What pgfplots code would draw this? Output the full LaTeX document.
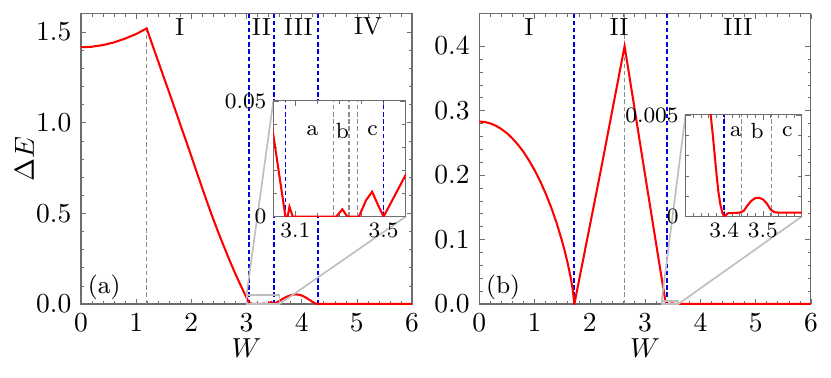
\documentclass[border=0pt]{standalone}
\usepackage{pgfplots}
\pgfplotsset{compat=1.18}
\usepackage{pgfplotstable}

\pgfplotstableread{
W E
0 1.416
0.2 1.419
0.4 1.428
0.6 1.443
0.8 1.464
1.0 1.489
1.1 1.505
1.19 1.520
1.3 1.424
1.4 1.338
1.5 1.251
1.6 1.165
1.7 1.078
1.8 0.990
1.9 0.903
2.0 0.815
2.1 0.725
2.2 0.637
2.3 0.550
2.4 0.466
2.5 0.386
2.6 0.310
2.7 0.236
2.8 0.165
2.9 0.099
3.0 0.0353
3.03 0.016
3.055 0.0
3.065 0.0
3.073 0.0043
3.088 0.0
3.285 0.0
3.313 0.0032
3.336 0.0
3.388 0.0
3.42 0.007
3.448 0.0108
3.475 0.005
3.50 0.0
3.55 0.009
3.6 0.018
3.65 0.027
3.7 0.036
3.75 0.043
3.8 0.048
3.85 0.052
3.9 0.053
3.95 0.051
4.0 0.047
4.05 0.040
4.1 0.031
4.15 0.021
4.2 0.011
4.25 0.003
4.28 0.0
6.0 0.0
}\dataA

\pgfplotstableread{
W E
0 0.2830
0.1 0.2823
0.2 0.2801
0.3 0.2765
0.4 0.2714
0.5 0.2649
0.6 0.2568
0.7 0.2471
0.8 0.2359
0.9 0.2226
1.0 0.2077
1.1 0.1907
1.2 0.1715
1.3 0.1500
1.4 0.1254
1.5 0.0968
1.55 0.0807
1.6 0.0629
1.65 0.0426
1.69 0.0227
1.72 0.0
2.2 0.208
2.629 0.400
2.8 0.308
3.0 0.200
3.2 0.093
3.3 0.040
3.35 0.0135
3.365 0.0050
3.37 0.0041
3.375 0.0031
3.38 0.0021
3.385 0.0012
3.39 0.0006
3.395 0.0002
3.40 0.0
3.405 0.0001
3.41 0.00017
3.44 0.0002
3.45 0.00028
3.46 0.00055
3.47 0.00078
3.48 0.00091
3.49 0.00093
3.50 0.00085
3.51 0.00065
3.52 0.00035
3.53 0.00022
3.54 0.0002
6.0 0.0002
}\dataB

\definecolor{vblue}{RGB}{0,0,230}
\definecolor{framegray}{RGB}{110,110,110}
\definecolor{linkgray}{RGB}{190,190,190}
\definecolor{dashgray}{RGB}{140,140,140}

\pgfplotsset{
  base/.style={
    scale only axis, anchor=south west,
    axis line style={framegray},
    tick style={framegray},
    tick align=inside,
    major tick length=2pt, minor tick length=1.2pt,
    scaled x ticks=false, scaled y ticks=false,
    clip=true,
  },
  vgray/.style={dashgray, line width=0.5pt, dash pattern=on 1.6pt off 1pt, forget plot},
  vblu/.style={vblue, line width=0.65pt, dash pattern=on 1.6pt off 1pt, forget plot},
  curve/.style={red, line width=0.75pt, mark=none},
}

\begin{document}
\begin{tikzpicture}
\path[use as bounding box] (0,0) rectangle (302.2pt,137.1pt);

% ---------------- panel (a) ----------------
\begin{axis}[base, name=A, at={(29.45pt,26.55pt)},
  width=120.4pt, height=105.5pt,
  xmin=0, xmax=6, ymin=0, ymax=1.6,
  xtick={0,1,2,3,4,5,6}, ytick={0,0.5,1.0,1.5},
  minor x tick num=4, minor y tick num=4,
  yticklabel style={/pgf/number format/.cd, fixed, fixed zerofill, precision=1},
  xlabel={$W$}, ylabel={$\Delta E$},
  xlabel style={at={(axis description cs:0.5,-0.152)}, anchor=center},
  ylabel style={at={(axis description cs:-0.171,0.5)}, anchor=center},
]
\addplot[vgray] coordinates {(1.19,0) (1.19,1.52)};
\addplot[vblu] coordinates {(3.05,0) (3.05,1.6)};
\addplot[vblu] coordinates {(3.50,0) (3.50,1.6)};
\addplot[vblu] coordinates {(4.30,0) (4.30,1.6)};
\addplot[curve] table[x=W,y=E] {\dataA};
\draw[linkgray, line width=0.6pt] (axis cs:3.0,0) rectangle (axis cs:3.6,0.05);
\coordinate (a1) at (axis cs:3.0,0.05);
\coordinate (a2) at (axis cs:3.6,0);
\node[font=\small] at (axis cs:1.79,1.53) {I};
\node[font=\small] at (axis cs:3.27,1.53) {II};
\node[font=\small] at (axis cs:3.94,1.53) {III};
\node[font=\small] at (axis cs:5.2,1.53) {IV};
\node[font=\small] at (axis cs:0.42,0.094) {(a)};
\end{axis}

\draw[linkgray, line width=0.6pt] (a1) -- (99.4pt,100.4pt);
\draw[linkgray, line width=0.6pt] (a2) -- (147.5pt,58.3pt);

\begin{axis}[base, name=insA, at={(99.4pt,58.3pt)},
  width=48.1pt, height=42.1pt,
  axis background/.style={fill=white},
  xmin=3.0, xmax=3.6, ymin=0, ymax=0.05,
  xtick={3.1,3.5}, xticklabels={$3.1$,$3.5$},
  minor xtick={3.0,3.2,3.3,3.4,3.6},
  ytick={0,0.05}, yticklabels={$0$,$0.05$},
  minor ytick={0.01,0.02,0.03,0.04},
  tick label style={font=\footnotesize},
  xticklabel style={yshift=1pt}, yticklabel style={xshift=1pt},
]
\addplot[vblu] coordinates {(3.055,0) (3.055,0.05)};
\addplot[vblu] coordinates {(3.50,0) (3.50,0.05)};
\addplot[vgray] coordinates {(3.273,0) (3.273,0.05)};
\addplot[vgray] coordinates {(3.343,0) (3.343,0.05)};
\addplot[vgray] coordinates {(3.381,0) (3.381,0.05)};
\addplot[curve] table[x=W,y=E] {\dataA};
\node[font=\footnotesize] at (axis cs:3.178,0.037) {a};
\node[font=\footnotesize] at (axis cs:3.313,0.037) {b};
\node[font=\footnotesize] at (axis cs:3.45,0.037) {c};
\end{axis}

% ---------------- panel (b) ----------------
\begin{axis}[base, name=B, at={(174.3pt,26.55pt)},
  width=120.6pt, height=105.5pt,
  xmin=0, xmax=6, ymin=0, ymax=0.45,
  xtick={0,1,2,3,4,5,6}, ytick={0,0.1,0.2,0.3,0.4},
  minor x tick num=4, minor y tick num=4,
  yticklabel style={/pgf/number format/.cd, fixed, fixed zerofill, precision=1},
  xlabel={$W$},
  xlabel style={at={(axis description cs:0.5,-0.152)}, anchor=center},
]
\addplot[vblu] coordinates {(1.72,0) (1.72,0.45)};
\addplot[vgray] coordinates {(2.63,0) (2.63,0.45)};
\addplot[vblu] coordinates {(3.39,0) (3.39,0.45)};
\addplot[curve] table[x=W,y=E] {\dataB};
\draw[linkgray, line width=0.6pt] (axis cs:3.3,0) rectangle (axis cs:3.6,0.005);
\coordinate (b1) at (axis cs:3.3,0.005);
\coordinate (b2) at (axis cs:3.6,0);
\node[font=\small] at (axis cs:0.9,0.43) {I};
\node[font=\small] at (axis cs:2.53,0.43) {II};
\node[font=\small] at (axis cs:4.68,0.43) {III};
\node[font=\small] at (axis cs:0.43,0.026) {(b)};
\end{axis}

\draw[linkgray, line width=0.6pt] (b1) -- (249.3pt,95.3pt);
\draw[linkgray, line width=0.6pt] (b2) -- (291.5pt,58.3pt);

\begin{axis}[base, name=insB, at={(249.3pt,58.3pt)},
  width=42.2pt, height=37.0pt,
  axis background/.style={fill=white},
  xmin=3.3, xmax=3.6, ymin=0, ymax=0.005,
  xtick={3.4,3.5}, xticklabels={$3.4$,$3.5$},
  minor xtick={3.32,3.34,3.36,3.38,3.42,3.44,3.46,3.48,3.52,3.54,3.56,3.58},
  ytick={0,0.005}, yticklabels={$0$,$0.005$},
  minor ytick={0.001,0.002,0.003,0.004},
  tick label style={font=\footnotesize},
  xticklabel style={yshift=1pt}, yticklabel style={xshift=1pt},
]
\addplot[vblu] coordinates {(3.40,0) (3.40,0.005)};
\addplot[vgray] coordinates {(3.445,0) (3.445,0.005)};
\addplot[vgray] coordinates {(3.522,0) (3.522,0.005)};
\addplot[curve] table[x=W,y=E] {\dataB};
\node[font=\footnotesize] at (axis cs:3.43,0.0042) {a};
\node[font=\footnotesize] at (axis cs:3.485,0.0042) {b};
\node[font=\footnotesize] at (axis cs:3.563,0.0042) {c};
\end{axis}
\end{tikzpicture}
\end{document}
